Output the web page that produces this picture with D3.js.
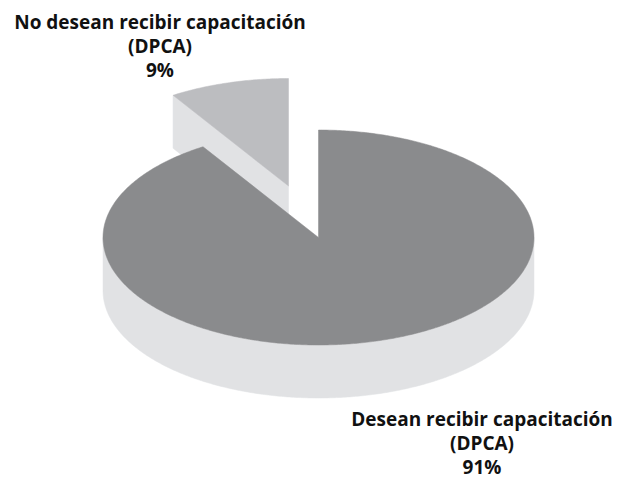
<!DOCTYPE html>
<html>
<head>
<meta charset="utf-8">
<script src="https://cdn.jsdelivr.net/npm/d3@7"></script>
<style>
  html, body { margin: 0; padding: 0; background: #ffffff; }
  svg { display: block; }
  text { font-family: "Open Sans", "DejaVu Sans", sans-serif; font-weight: 700; fill: #111111; }
</style>
</head>
<body>
<svg id="chart" width="630" height="480"></svg>
<script>
// ---- data ----
const categories = ["Desean recibir capacitación (DPCA)", "No desean recibir capacitación (DPCA)"];
const values = [91, 9];
const percentLabels = ["91%", "9%"];
const labelLine1 = ["Desean recibir capacitación", "No desean recibir capacitación"];
const labelLine2 = ["(DPCA)", "(DPCA)"];
const exploded = [0, 1];
const topColors = ["#8a8b8d", "#bcbdc0"];
const sideColors = ["#e1e2e4", "#e1e2e4"];

// ---- layout ----
const cx = 318.5, cy = 237.5;
const rx = 215.5, tilt = 107.5 / 215.5;
const depth = 53;
const explodeDist = 107.5;
const labelPos = [{x: 482, y: 425.5}, {x: 160, y: 29}];
const lineGap = 24.2;

const svg = d3.select("#chart");
const pie = d3.pie().sort(null).value(d => d);
const arcs = pie(values);

function proj(a, r, off, dy) {
  return [cx + off[0] + r * Math.sin(a), cy + off[1] - r * Math.cos(a) * tilt + (dy || 0)];
}
const line = d3.line();
function arcPoints(a0, a1, off, dy) {
  const n = Math.max(2, Math.ceil(Math.abs(a1 - a0) / 0.01));
  const pts = d3.range(n + 1).map(i => proj(a0 + (a1 - a0) * i / n, rx, off, dy));
  return pts;
}

const slices = arcs.map((d, i) => {
  const mid = (d.startAngle + d.endAngle) / 2;
  const e = exploded[i] ? explodeDist : 0;
  const off = [e * Math.sin(mid), -e * Math.cos(mid) * tilt];
  return {d, i, off, mid};
});
// back-to-front order
slices.sort((a, b) => a.off[1] - b.off[1]);

const g = svg.append("g");
slices.forEach(s => {
  const {d, i, off} = s;
  const a0 = d.startAngle, a1 = d.endAngle;
  const grp = g.append("g").attr("class", "slice");
  const apex = [cx + off[0], cy + off[1]];
  const apexB = [apex[0], apex[1] + depth];
  // radial faces
  if (Math.sin(a0) < -1e-6) {
    const p = proj(a0, rx, off), pb = proj(a0, rx, off, depth);
    grp.append("path").attr("d", line([apex, p, pb, apexB]) + "Z")
      .attr("fill", sideColors[i]).attr("stroke", sideColors[i]).attr("stroke-width", 0.5);
  }
  if (Math.sin(a1) > 1e-6) {
    const p = proj(a1, rx, off), pb = proj(a1, rx, off, depth);
    grp.append("path").attr("d", line([apex, p, pb, apexB]) + "Z")
      .attr("fill", sideColors[i]).attr("stroke", sideColors[i]).attr("stroke-width", 0.5);
  }
  // outer side (front-facing part)
  const s0 = Math.max(a0, Math.PI / 2), s1 = Math.min(a1, 3 * Math.PI / 2);
  if (s1 > s0) {
    const topPts = arcPoints(s0, s1, off, 0);
    const botPts = arcPoints(s1, s0, off, depth);
    grp.append("path").attr("d", line(topPts.concat(botPts)) + "Z")
      .attr("fill", sideColors[i]).attr("stroke", sideColors[i]).attr("stroke-width", 0.5);
  }
  // top face
  const topPts = [apex].concat(arcPoints(a0, a1, off, 0));
  grp.append("path").attr("d", line(topPts) + "Z")
    .attr("fill", topColors[i]).attr("stroke", topColors[i]).attr("stroke-width", 0.5);
});

// labels
const labels = svg.append("g").attr("class", "labels");
values.forEach((v, i) => {
  const t = labels.append("text")
    .attr("text-anchor", "middle")
    .attr("font-size", 19);
  [labelLine1[i], labelLine2[i], percentLabels[i]].forEach((txt, k) => {
    t.append("tspan").attr("x", labelPos[i].x).attr("y", labelPos[i].y + k * lineGap).text(txt);
  });
});
</script>
</body>
</html>
